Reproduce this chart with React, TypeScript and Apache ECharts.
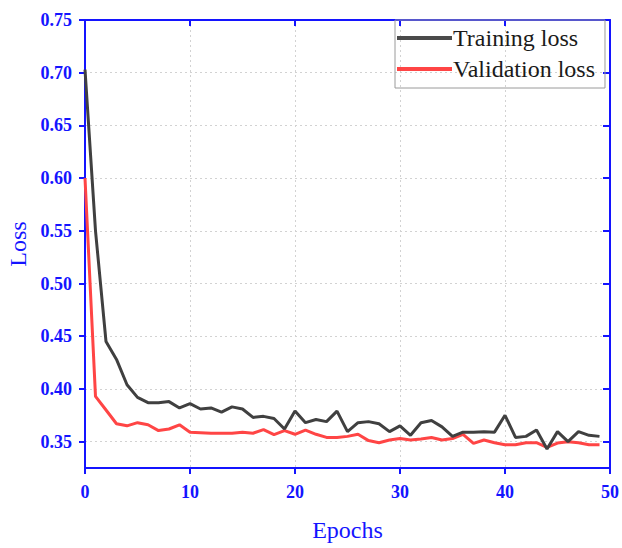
import React, { useEffect, useRef } from "react";
import * as echarts from "echarts";

const epochs: number[] = Array.from({ length: 50 }, (_, i) => i);

const trainingLoss: number[] = [
  0.703, 0.55, 0.445, 0.428, 0.404, 0.392, 0.387, 0.387, 0.388, 0.382,
  0.386, 0.381, 0.382, 0.378, 0.383, 0.381, 0.373, 0.374, 0.372, 0.362,
  0.379, 0.368, 0.371, 0.369, 0.379, 0.3595, 0.368, 0.369, 0.367, 0.3595,
  0.365, 0.356, 0.368, 0.37, 0.364, 0.355, 0.359, 0.359, 0.3595, 0.359,
  0.375, 0.354, 0.355, 0.361, 0.343, 0.3595, 0.35, 0.3595, 0.356, 0.355,
];

const validationLoss: number[] = [
  0.6, 0.393, 0.38, 0.367, 0.365, 0.368, 0.366, 0.3605, 0.362, 0.366,
  0.359, 0.3585, 0.358, 0.358, 0.358, 0.359, 0.358, 0.3614, 0.3566, 0.3604,
  0.357, 0.361, 0.357, 0.354, 0.354, 0.355, 0.357, 0.351, 0.349, 0.3516,
  0.353, 0.3516, 0.3525, 0.354, 0.3516, 0.353, 0.357, 0.3484, 0.3516, 0.349,
  0.347, 0.347, 0.349, 0.349, 0.3446, 0.3487, 0.35, 0.349, 0.347, 0.347,
];

const yTicks: number[] = [0.35, 0.4, 0.45, 0.5, 0.55, 0.6, 0.65, 0.7, 0.75];

const BLUE = "#1414ff";
const SERIF = "'Liberation Serif', 'Times New Roman', serif";

export default function App() {
  const ref = useRef<HTMLDivElement>(null);
  useEffect(() => {
    if (!ref.current) return;
    const chart = echarts.init(ref.current, null, { renderer: "svg" });
    const gridLine = { show: true, lineStyle: { color: "#d2d2d2", type: [2, 3] as any, width: 1 } };
    const xBase = {
      type: "value" as const,
      min: 0,
      max: 50,
      interval: 10,
      axisLine: { show: true, onZero: false, lineStyle: { color: BLUE, width: 2 } },
    };
    const yBase = {
      type: "value" as const,
      min: 0.325,
      max: 0.75,
      axisLine: { show: true, onZero: false, lineStyle: { color: BLUE, width: 2 } },
    };
    chart.setOption({
      animation: false,
      backgroundColor: "#ffffff",
      grid: { left: 85, right: 12, top: 20, bottom: 80, containLabel: false, outerBoundsMode: "none" },
      legend: {
        orient: "vertical",
        left: 395,
        top: 20,
        padding: [6, 10, 7, 2],
        itemGap: 7,
        itemWidth: 55,
        itemHeight: 4,
        icon: "rect",
        borderColor: "#9a9a9a",
        borderWidth: 1,
        textStyle: { fontFamily: SERIF, fontSize: 24, color: "#1a1a1a", padding: [0, 0, 0, -4] },
        data: ["Training loss", "Validation loss"],
      },
      xAxis: [
        {
          ...xBase,
          position: "bottom",
          name: "Epochs",
          nameLocation: "middle",
          nameGap: 50,
          nameTextStyle: { fontFamily: SERIF, fontSize: 24, color: BLUE },
          axisTick: { show: true, inside: false, length: 6, lineStyle: { color: BLUE, width: 2 } },
          axisLabel: { fontFamily: SERIF, fontSize: 18, fontWeight: "bold", color: BLUE, margin: 15 },
          splitLine: gridLine,
        },
        {
          ...xBase,
          position: "top",
          axisTick: { show: true, inside: true, length: 6, lineStyle: { color: BLUE, width: 2 } },
          axisLabel: { show: false },
          splitLine: { show: false },
        },
      ],
      yAxis: [
        {
          ...yBase,
          position: "left",
          name: "Loss",
          nameLocation: "middle",
          nameGap: 55,
          nameTextStyle: { fontFamily: SERIF, fontSize: 24, color: BLUE },
          axisTick: { show: true, inside: false, length: 6, customValues: yTicks, lineStyle: { color: BLUE, width: 2 } },
          axisLabel: {
            customValues: yTicks,
            fontFamily: SERIF,
            fontSize: 18,
            fontWeight: "bold",
            color: BLUE,
            margin: 13,
            formatter: (v: number) => v.toFixed(2),
          },
          splitLine: gridLine,
        },
        {
          ...yBase,
          position: "right",
          axisTick: { show: true, inside: true, length: 7, customValues: yTicks, lineStyle: { color: BLUE, width: 2 } },
          axisLabel: { show: false },
          splitLine: { show: false },
        },
      ],
      series: [
        {
          name: "Training loss",
          type: "line",
          xAxisIndex: 0,
          yAxisIndex: 0,
          symbol: "none",
          data: epochs.map((e, i) => [e, trainingLoss[i]]),
          lineStyle: { color: "#404040", width: 3 },
          itemStyle: { color: "#4a4a4a" },
          z: 3,
        },
        {
          name: "Validation loss",
          type: "line",
          xAxisIndex: 0,
          yAxisIndex: 0,
          symbol: "none",
          data: epochs.map((e, i) => [e, validationLoss[i]]),
          lineStyle: { color: "#ff4545", width: 3 },
          itemStyle: { color: "#ff4545" },
          z: 2,
        },
      ],
    });
    return () => chart.dispose();
  }, []);
  return (
    <div
      ref={ref}
      style={{ position: "fixed", left: 0, top: 0, width: 622, height: 548, background: "#fff" }}
    />
  );
}
